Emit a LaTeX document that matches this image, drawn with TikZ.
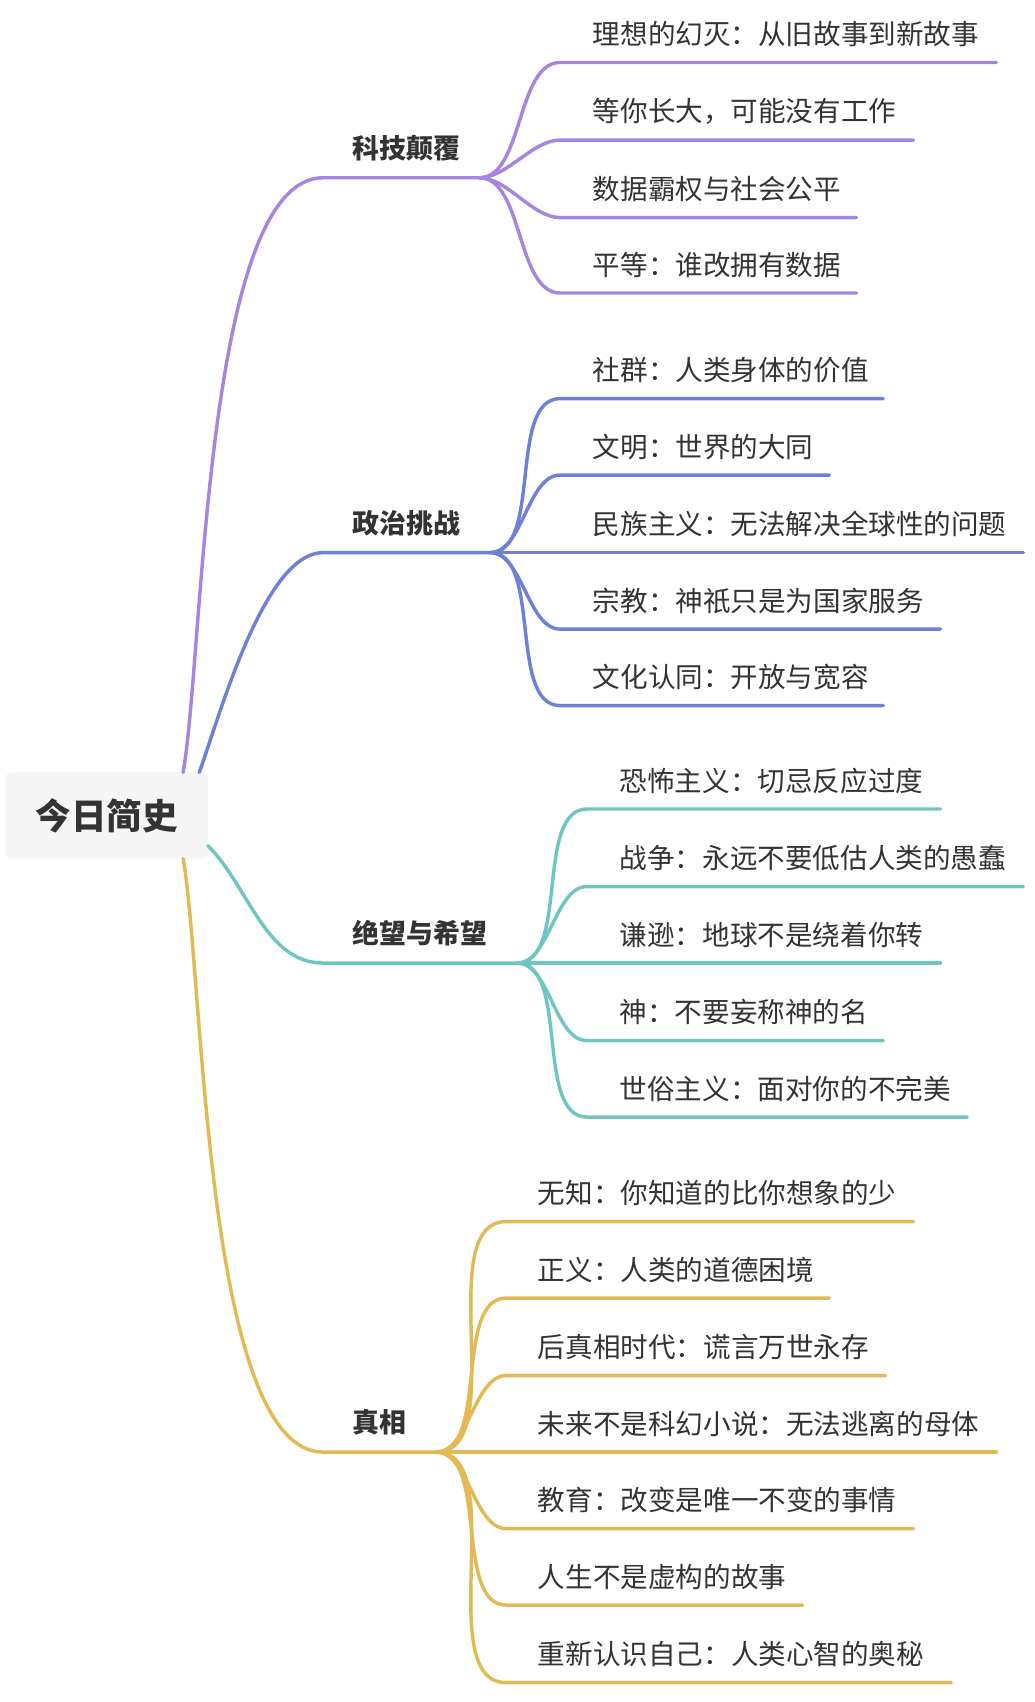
\documentclass[tikz,border=0pt]{standalone}
\usepackage{fontspec}
\setmainfont{Noto Sans CJK SC}
\usetikzlibrary{positioning}
\definecolor{cpurple}{HTML}{A585E0}
\definecolor{cblue}{HTML}{6F80D8}
\definecolor{cteal}{HTML}{6EC6C0}
\definecolor{cgold}{HTML}{E2B955}
\definecolor{cgray}{HTML}{333333}
\tikzset{
     root/.style={rectangle, fill=black!4, rounded corners=3pt, minimum width=94pt,
                  minimum height=40pt, font=\fontsize{16.5}{16.5}\selectfont\bfseries, text=cgray},
     topic/.style={anchor=south, font=\fontsize{12.5}{12.5}\selectfont\bfseries, text=cgray, inner sep=1pt},
     leaf/.style={anchor=south west, font=\fontsize{12.8}{12.8}\selectfont, text=cgray, inner sep=1pt},
     edge/.style={line width=1.6pt, line cap=round}
     }

\begin{document}
\begin{tikzpicture}[x=0.5pt,y=-0.5pt]
\useasboundingbox (0,0) rectangle (960,1580);

\node [root] (R) at (99,757) {今日简史};

% branch heads
\coordinate (T1) at (445,165);
\coordinate (T2) at (455,513);
\coordinate (T3) at (480,894);
\coordinate (T4) at (405,1348);
\node [topic] (L1) at (377,152) {科技颠覆};
\node [topic] (L2) at (377,500) {政治挑战};
\node [topic] (L3) at (390,881) {绝望与希望};
\node [topic] (L4) at (352,1335) {真相};

\draw[edge, cpurple] (170,717) to[out=80,in=180,looseness=0.5] (300,165) -- (T1);
\draw[edge, cblue] (185,717) to[out=70,in=180,looseness=0.6] (300,513) -- (T2);
\draw[edge, cteal] (193,785) to[out=-45,in=180,looseness=0.9] (300,894) -- (T3);
\draw[edge, cgold] (170,797) to[out=-80,in=180,looseness=0.5] (300,1348) -- (T4);

% leaves
\foreach \y/\e/\t [count=\i] in {58/925/理想的幻灭：从旧故事到新故事, 130/848/等你长大，可能没有工作,
   202/795/数据霸权与社会公平, 272/795/平等：谁改拥有数据}{
  \draw[edge, cpurple] (T1) to[out=0,in=180,looseness=0.8] (520,\y) -- (\e,\y);
  \node [leaf] (a\i) at (548,\y-12) {\t};
}
\foreach \y/\e/\t [count=\i] in {370/820/社群：人类身体的价值, 441/770/文明：世界的大同,
   513/950/民族主义：无法解决全球性的问题, 584/873/宗教：神祇只是为国家服务, 655/820/文化认同：开放与宽容}{
  \draw[edge, cblue] (T2) to[out=0,in=180,looseness=0.8] (520,\y) -- (\e,\y);
  \node [leaf] (b\i) at (548,\y-12) {\t};
}
\foreach \y/\e/\t [count=\i] in {751/873/恐怖主义：切忌反应过度, 823/950/战争：永远不要低估人类的愚蠢,
   894/873/谦逊：地球不是绕着你转, 966/820/神：不要妄称神的名, 1037/898/世俗主义：面对你的不完美}{
  \draw[edge, cteal] (T3) to[out=0,in=180,looseness=0.8] (545,\y) -- (\e,\y);
  \node [leaf] (c\i) at (573,\y-12) {\t};
}
\foreach \y/\e/\t [count=\i] in {1134/848/无知：你知道的比你想象的少, 1205/770/正义：人类的道德困境,
   1277/822/后真相时代：谎言万世永存, 1348/925/未来不是科幻小说：无法逃离的母体,
   1419/848/教育：改变是唯一不变的事情, 1490/745/人生不是虚构的故事, 1562/883/重新认识自己：人类心智的奥秘}{
  \draw[edge, cgold] (T4) to[out=0,in=180,looseness=0.8] (470,\y) -- (\e,\y);
  \node [leaf] (d\i) at (497,\y-12) {\t};
}
\end{tikzpicture}
\end{document}
